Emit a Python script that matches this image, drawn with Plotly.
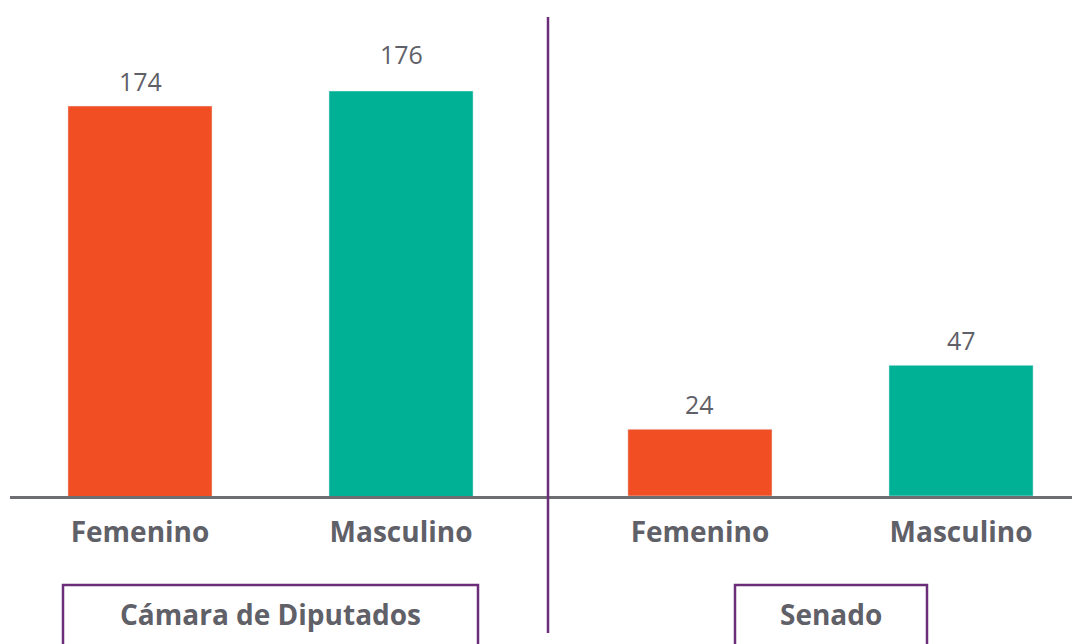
import plotly.graph_objects as go

categories = ["Femenino", "Masculino"]
camara_values = [174, 176]
senado_values = [24, 47]
group_labels = ["Cámara de Diputados", "Senado"]
bar_colors = ["#F14E23", "#00B195"]
camara_label_shift = [6, 18]
senado_label_shift = [6, 6]

W, H = 1072, 644
TOP, BASE = 17, 496
plot_h = BASE - TOP
FONT = "Open Sans"
GRAY = "#5f6068"
PURPLE = "#6b2d7a"

def py(Y):
    return (BASE - Y) / plot_h

fig = go.Figure()
fig.add_trace(go.Bar(x=categories, y=camara_values, marker_color=bar_colors,
                     width=0.552, xaxis="x", yaxis="y", hoverinfo="x+y"))
fig.add_trace(go.Bar(x=categories, y=senado_values, marker_color=bar_colors,
                     width=0.552, xaxis="x2", yaxis="y2", hoverinfo="x+y"))

anns = []
for c, v, s in zip(categories, camara_values, camara_label_shift):
    anns.append(dict(x=c, y=v, xref="x", yref="y", text=str(v), showarrow=False,
                     yanchor="bottom", yshift=s, font=dict(family=FONT, size=25, color=GRAY)))
for c, v, s in zip(categories, senado_values, senado_label_shift):
    anns.append(dict(x=c, y=v, xref="x2", yref="y2", text=str(v), showarrow=False,
                     yanchor="bottom", yshift=s, font=dict(family=FONT, size=25, color=GRAY)))

box_specs = [(63, 478), (735, 927)]
shapes = []
for (x0, x1), lab in zip(box_specs, group_labels):
    shapes.append(dict(type="rect", xref="paper", yref="paper", x0=x0 / W, x1=x1 / W,
                       y0=py(660), y1=py(585), line=dict(color=PURPLE, width=2.5)))
    anns.append(dict(x=(x0 + x1) / 2 / W, y=py(614), xref="paper", yref="paper", text=lab,
                     showarrow=False, xanchor="center", yanchor="middle",
                     font=dict(family=FONT, size=28, color=GRAY, weight="bold")))
shapes.append(dict(type="line", xref="paper", yref="paper", x0=548 / W, x1=548 / W,
                   y0=py(633), y1=1, line=dict(color=PURPLE, width=2.5)))

xcommon = dict(type="category", showgrid=False, zeroline=False, showline=True,
               linecolor="#6d6e72", linewidth=2.5, ticks="", ticklabelstandoff=10,
               tickfont=dict(family=FONT, size=28, color=GRAY, weight="bold"))
ycommon = dict(showgrid=False, zeroline=False, showline=False, showticklabels=False, ticks="")

fig.update_layout(
    width=W, height=H, margin=dict(l=0, r=0, t=TOP, b=H - BASE),
    paper_bgcolor="white", plot_bgcolor="white", showlegend=False,
    xaxis=dict(domain=[10 / W, 548 / W], range=[-0.498, 1.563], anchor="y", **xcommon),
    xaxis2=dict(domain=[548 / W, 1], range=[-0.582, 1.425], anchor="y2", **xcommon),
    yaxis=dict(range=[122, 122 + plot_h / 7.5], anchor="x", **ycommon),
    yaxis2=dict(range=[0, plot_h / 2.78], anchor="x2", **ycommon),
    shapes=shapes, annotations=anns,
)
fig.write_html("out.html", config={"displayModeBar": False},
               post_script="document.body.style.margin='0';document.body.style.overflow='hidden';")
